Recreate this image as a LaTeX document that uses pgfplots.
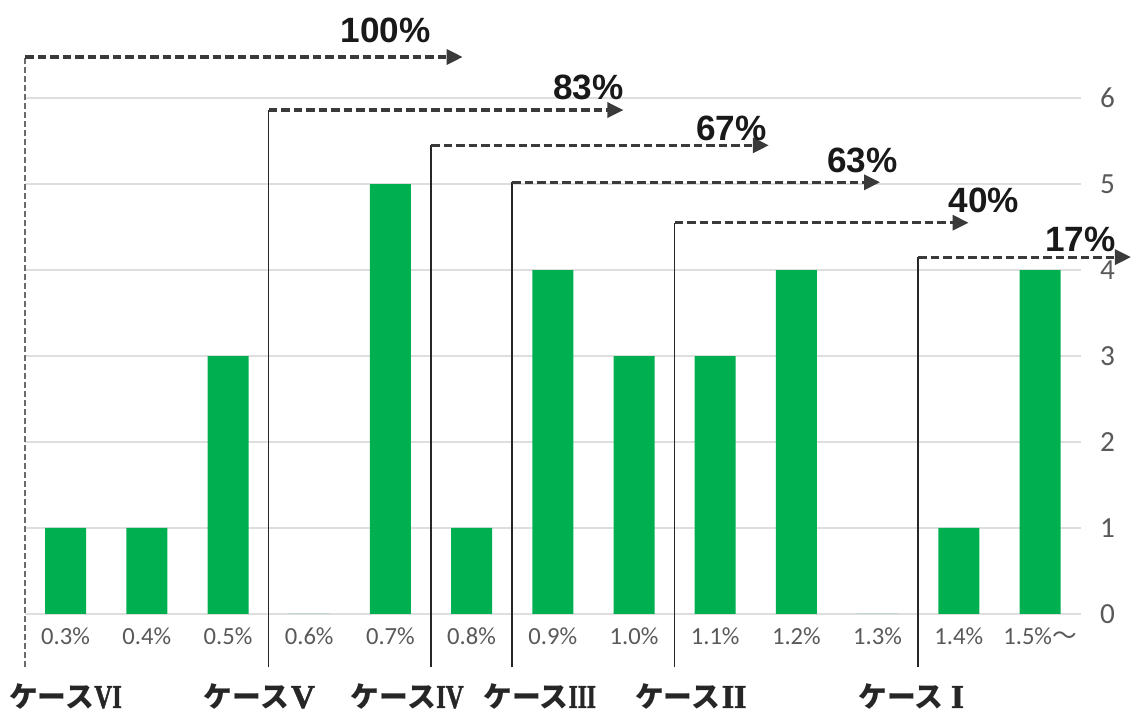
\documentclass[border=0pt]{standalone}
\usepackage{pgfplots}
\pgfplotsset{compat=1.18}
\usetikzlibrary{arrows.meta}
\usepackage{fontspec}
\setmainfont{Carlito}
\newfontfamily\pctfont{Liberation Sans}
\newfontfamily\jp{Noto Sans CJK JP}
\newfontfamily\rom{Liberation Serif}[BoldFeatures={FakeBold=1.6}]
\definecolor{bargreen}{HTML}{00B050}
\definecolor{arrowgray}{HTML}{3A3A3A}
\definecolor{ticktext}{HTML}{595959}
\tikzset{
  arr/.style={arrowgray, line width=0.9pt, dash pattern=on 0.85mm off 0.4mm, -{Triangle[length=1.6mm,width=1.5mm]}},
  sep/.style={black!85, line width=0.45pt},
  pct/.style={font=\pctfont\bfseries\fontsize{10}{12}\selectfont, text=black!90},
  case/.style={font=\jp\bfseries\fontsize{8.2}{9}\selectfont, text=black!85, inner sep=0pt}
}
\newcommand{\rn}[2][0.74]{\makebox[2.8mm][c]{\scalebox{#1}[1]{\rom\bfseries\fontsize{9.5}{10}\selectfont #2}}}
\begin{document}
\begin{tikzpicture}
\begin{axis}[
  at={(2.5mm,10.3mm)}, anchor=south west,
  width=105.56mm, height=61.4mm, scale only axis,
  xmin=-0.5, xmax=12.5, ymin=0, ymax=7.14,
  clip=false,
  axis line style={draw=none},
  major tick length=0pt,
  xtick={0,1,2,3,4,5,6,7,8,9,10,11,12},
  xticklabels={0.3\%,0.4\%,0.5\%,0.6\%,0.7\%,0.8\%,0.9\%,1.0\%,1.1\%,1.2\%,1.3\%,1.4\%,1.5\%{\jp ～}},
  ytick={0,1,2,3,4,5,6},
  yticklabel pos=right,
  ymajorgrids,
  grid style={color=black!13, line width=0.5pt},
  xticklabel style={font=\fontsize{7}{8}\selectfont, text=ticktext, anchor=center, yshift=-2.2mm},
  yticklabel style={font=\fontsize{8.3}{9}\selectfont, text=ticktext, anchor=center, xshift=2.7mm},
  /pgf/number format/assume math mode=true,
  ybar, bar width=4.1mm, bar shift=0pt,
]
\addplot[fill=bargreen, draw=none] coordinates {(0,1) (1,1) (2,3) (3,0) (4,5) (5,1) (6,4) (7,3) (8,3) (9,4) (10,0) (11,1) (12,4)};

% case VI (dashed left line)
\draw[arrowgray!75, line width=0.45pt, dash pattern=on 0.6mm off 0.3mm] (-0.5,-0.62) -- (-0.5,6.477);
\draw[arr] (-0.5,6.477) -- (4.89,6.477);
\node[pct] at (3.94,6.79) {100\%};
% case V
\draw[sep] (2.5,-0.62) -- (2.5,5.86);
\draw[arr] (2.5,5.86) -- (6.87,5.86);
\node[pct] at (6.44,6.12) {83\%};
% case IV
\draw[sep] (4.5,-0.62) -- (4.5,5.45);
\draw[arr] (4.5,5.45) -- (8.66,5.45);
\node[pct] at (8.20,5.65) {67\%};
% case III
\draw[sep] (5.5,-0.62) -- (5.5,5.02);
\draw[arr] (5.5,5.02) -- (10.03,5.02);
\node[pct] at (9.81,5.28) {63\%};
% case II
\draw[sep] (7.5,-0.62) -- (7.5,4.55);
\draw[arr] (7.5,4.55) -- (11.12,4.55);
\node[pct] at (11.31,4.81) {40\%};
% case I
\draw[sep] (10.5,-0.62) -- (10.5,4.15);
\draw[arr] (10.5,4.15) -- (13.12,4.15);
\node[pct] at (12.50,4.35) {17\%};

% case labels
\node[case] at (0,-0.965) {ケース\rn{VI}};
\node[case] at (2.40,-0.965) {ケース\rn[1]{V}};
\node[case] at (4.21,-0.965) {ケース\rn{IV}};
\node[case] at (5.84,-0.965) {ケース\rn[0.7]{III}};
\node[case] at (7.71,-0.965) {ケース\rn[0.95]{II}};
\node[case] at (10.46,-0.965) {ケース\rn[1]{I}};
\end{axis}
\pgfresetboundingbox
\path[use as bounding box] (0,0) rectangle (113.1mm,71.7mm);
\end{tikzpicture}
\end{document}
